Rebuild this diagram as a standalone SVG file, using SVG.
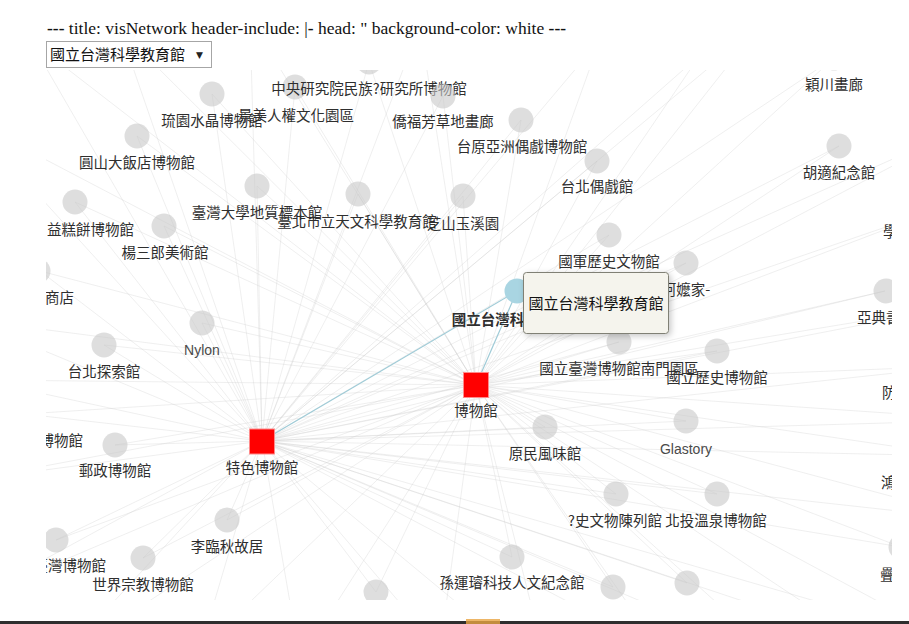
<svg xmlns="http://www.w3.org/2000/svg" width="909" height="624" viewBox="0 0 909 624">
<style>
.hdr{font-family:"Liberation Serif","Times New Roman",serif;font-size:17.5px;fill:#111}
.sel{font-family:"Noto Sans CJK TC","Noto Sans CJK SC",sans-serif;font-size:15px;fill:#111}
.lbl{font-family:"Noto Sans CJK TC","Noto Sans CJK SC",sans-serif;font-size:14.5px;fill:#2e2e2e;text-anchor:middle}
.lat{font-family:"Liberation Sans",Arial,sans-serif;font-size:14px;fill:#4a4a4a;text-anchor:middle}
.st{text-anchor:start}
.en{text-anchor:end}
.nd{fill:#c8c8c8;fill-opacity:.6}
.hub{fill:#ff0000;stroke:#ff8a8a;stroke-width:1}
#edges line{stroke:#cccccc;stroke-opacity:.32;stroke-width:1}
#edges line.hl{stroke:#9fcbd7;stroke-opacity:1;stroke-width:1.2}
</style>
<defs>
<clipPath id="cv"><rect x="46" y="70" width="846" height="530"/></clipPath>
<filter id="sh" x="-20%" y="-30%" width="150%" height="170%"><feDropShadow dx="2" dy="2" stdDeviation="3" flood-color="#000" flood-opacity=".22"/></filter>
</defs>
<rect width="909" height="624" fill="#fff"/>
<text class="hdr" x="47" y="34"><tspan font-weight="bold">---</tspan> title: visNetwork header-include: |<tspan font-weight="bold">-</tspan> head: " background-color: white <tspan font-weight="bold">---</tspan></text>
<g id="selector">
<rect x="46.5" y="41.5" width="165" height="26" fill="#fff" stroke="#a6a6a6"/>
<text class="sel" x="50" y="60">國立台灣科學教育館</text>
<text x="196" y="58" font-family="DejaVu Sans,sans-serif" font-size="9" fill="#222">▼</text>
</g>
<g clip-path="url(#cv)">
<g id="edges">
<line x1="212" y1="94" x2="476" y2="385"/><line x1="212" y1="94" x2="262" y2="441"/>
<line x1="295" y1="87" x2="476" y2="385"/><line x1="295" y1="87" x2="262" y2="441"/>
<line x1="369" y1="62" x2="476" y2="385"/><line x1="369" y1="62" x2="262" y2="441"/>
<line x1="443" y1="96" x2="476" y2="385"/><line x1="443" y1="96" x2="262" y2="441"/>
<line x1="521" y1="120" x2="476" y2="385"/><line x1="521" y1="120" x2="262" y2="441"/>
<line x1="597" y1="161" x2="476" y2="385"/><line x1="597" y1="161" x2="262" y2="441"/>
<line x1="834" y1="58" x2="476" y2="385"/><line x1="834" y1="58" x2="262" y2="441"/>
<line x1="839" y1="146" x2="476" y2="385"/><line x1="839" y1="146" x2="262" y2="441"/>
<line x1="137" y1="136" x2="476" y2="385"/><line x1="137" y1="136" x2="262" y2="441"/>
<line x1="257" y1="186" x2="476" y2="385"/><line x1="257" y1="186" x2="262" y2="441"/>
<line x1="358" y1="194" x2="476" y2="385"/><line x1="358" y1="194" x2="262" y2="441"/>
<line x1="463" y1="196" x2="476" y2="385"/><line x1="463" y1="196" x2="262" y2="441"/>
<line x1="75" y1="202" x2="476" y2="385"/><line x1="75" y1="202" x2="262" y2="441"/>
<line x1="164" y1="226" x2="476" y2="385"/><line x1="164" y1="226" x2="262" y2="441"/>
<line x1="609" y1="235" x2="476" y2="385"/><line x1="609" y1="235" x2="262" y2="441"/>
<line x1="686" y1="263" x2="476" y2="385"/><line x1="686" y1="263" x2="262" y2="441"/>
<line x1="885" y1="291" x2="476" y2="385"/><line x1="885" y1="291" x2="262" y2="441"/>
<line x1="40" y1="271" x2="476" y2="385"/><line x1="40" y1="271" x2="262" y2="441"/>
<line x1="202" y1="323" x2="476" y2="385"/><line x1="202" y1="323" x2="262" y2="441"/>
<line x1="104" y1="345" x2="476" y2="385"/><line x1="104" y1="345" x2="262" y2="441"/>
<line x1="619" y1="342" x2="476" y2="385"/><line x1="619" y1="342" x2="262" y2="441"/>
<line x1="717" y1="351" x2="476" y2="385"/><line x1="717" y1="351" x2="262" y2="441"/>
<line x1="115" y1="445" x2="476" y2="385"/><line x1="115" y1="445" x2="262" y2="441"/>
<line x1="25" y1="414" x2="476" y2="385"/><line x1="25" y1="414" x2="262" y2="441"/>
<line x1="545" y1="427" x2="476" y2="385"/><line x1="545" y1="427" x2="262" y2="441"/>
<line x1="686" y1="421" x2="476" y2="385"/><line x1="686" y1="421" x2="262" y2="441"/>
<line x1="616" y1="494" x2="476" y2="385"/><line x1="616" y1="494" x2="262" y2="441"/>
<line x1="717" y1="494" x2="476" y2="385"/><line x1="717" y1="494" x2="262" y2="441"/>
<line x1="227" y1="520" x2="476" y2="385"/><line x1="227" y1="520" x2="262" y2="441"/>
<line x1="56" y1="540" x2="476" y2="385"/><line x1="56" y1="540" x2="262" y2="441"/>
<line x1="143" y1="558" x2="476" y2="385"/><line x1="143" y1="558" x2="262" y2="441"/>
<line x1="512" y1="557" x2="476" y2="385"/><line x1="512" y1="557" x2="262" y2="441"/>
<line x1="376" y1="592" x2="476" y2="385"/><line x1="376" y1="592" x2="262" y2="441"/>
<line x1="613" y1="587" x2="476" y2="385"/><line x1="613" y1="587" x2="262" y2="441"/>
<line x1="687" y1="583" x2="476" y2="385"/><line x1="687" y1="583" x2="262" y2="441"/>
<line x1="950" y1="205" x2="476" y2="385"/><line x1="950" y1="205" x2="262" y2="441"/>
<line x1="960" y1="366" x2="476" y2="385"/><line x1="960" y1="366" x2="262" y2="441"/>
<line x1="960" y1="456" x2="476" y2="385"/><line x1="960" y1="456" x2="262" y2="441"/>
<line x1="901" y1="547" x2="476" y2="385"/><line x1="901" y1="547" x2="262" y2="441"/>
<line x1="30" y1="40" x2="476" y2="385"/><line x1="30" y1="40" x2="262" y2="441"/>
<line x1="120" y1="30" x2="476" y2="385"/><line x1="120" y1="30" x2="262" y2="441"/>
<line x1="250" y1="20" x2="476" y2="385"/><line x1="250" y1="20" x2="262" y2="441"/>
<line x1="420" y1="25" x2="476" y2="385"/><line x1="420" y1="25" x2="262" y2="441"/>
<line x1="600" y1="40" x2="476" y2="385"/><line x1="600" y1="40" x2="262" y2="441"/>
<line x1="700" y1="55" x2="476" y2="385"/><line x1="700" y1="55" x2="262" y2="441"/>
<line x1="760" y1="25" x2="476" y2="385"/><line x1="760" y1="25" x2="262" y2="441"/>
<line x1="980" y1="120" x2="476" y2="385"/><line x1="980" y1="120" x2="262" y2="441"/>
<line x1="990" y1="300" x2="476" y2="385"/><line x1="990" y1="300" x2="262" y2="441"/>
<line x1="990" y1="420" x2="476" y2="385"/><line x1="990" y1="420" x2="262" y2="441"/>
<line x1="980" y1="520" x2="476" y2="385"/><line x1="980" y1="520" x2="262" y2="441"/>
<line x1="950" y1="640" x2="476" y2="385"/><line x1="950" y1="640" x2="262" y2="441"/>
<line x1="60" y1="660" x2="476" y2="385"/><line x1="60" y1="660" x2="262" y2="441"/>
<line x1="200" y1="650" x2="476" y2="385"/><line x1="200" y1="650" x2="262" y2="441"/>
<line x1="300" y1="660" x2="476" y2="385"/><line x1="300" y1="660" x2="262" y2="441"/>
<line x1="440" y1="650" x2="476" y2="385"/><line x1="440" y1="650" x2="262" y2="441"/>
<line x1="550" y1="680" x2="476" y2="385"/><line x1="550" y1="680" x2="262" y2="441"/>
<line x1="660" y1="650" x2="476" y2="385"/><line x1="660" y1="650" x2="262" y2="441"/>
<line x1="780" y1="660" x2="476" y2="385"/><line x1="780" y1="660" x2="262" y2="441"/>
<line x1="860" y1="640" x2="476" y2="385"/><line x1="860" y1="640" x2="262" y2="441"/>
<line x1="-30" y1="120" x2="476" y2="385"/><line x1="-30" y1="120" x2="262" y2="441"/>
<line x1="-30" y1="320" x2="476" y2="385"/><line x1="-30" y1="320" x2="262" y2="441"/>
<line x1="-20" y1="380" x2="476" y2="385"/><line x1="-20" y1="380" x2="262" y2="441"/>
<line x1="-30" y1="480" x2="476" y2="385"/><line x1="-30" y1="480" x2="262" y2="441"/>
<line x1="-30" y1="600" x2="476" y2="385"/><line x1="-30" y1="600" x2="262" y2="441"/>
<line class="hl" x1="517" y1="291" x2="476" y2="385"/>
<line class="hl" x1="517" y1="291" x2="262" y2="441"/>
</g>
<g id="n-liuli"><circle class="nd" cx="212" cy="94" r="12.5"/><text class="lbl" x="212" y="126">琉園水晶博物館</text></g>
<g id="n-jingmei"><circle class="nd" cx="295" cy="87" r="12.5"/><text class="lbl" x="296" y="121">景美人權文化園區</text></g>
<g id="n-academia"><circle class="nd" cx="369" cy="62" r="12.5"/><text class="lbl" x="369" y="94">中央研究院民族?研究所博物館</text></g>
<g id="n-qiaofu"><circle class="nd" cx="443" cy="96" r="12.5"/><text class="lbl" x="443" y="127">僑福芳草地畫廊</text></g>
<g id="n-taiyuan"><circle class="nd" cx="521" cy="120" r="12.5"/><text class="lbl" x="522" y="152">台原亞洲偶戲博物館</text></g>
<g id="n-puppet"><circle class="nd" cx="597" cy="161" r="12.5"/><text class="lbl" x="597" y="192">台北偶戲館</text></g>
<g id="n-yingchuan"><circle class="nd" cx="834" cy="58" r="12.5"/><text class="lbl" x="834" y="90">穎川畫廊</text></g>
<g id="n-hushih"><circle class="nd" cx="839" cy="146" r="12.5"/><text class="lbl" x="839" y="178">胡適紀念館</text></g>
<g id="n-grandhotel"><circle class="nd" cx="137" cy="136" r="12.5"/><text class="lbl" x="137" y="168">圓山大飯店博物館</text></g>
<g id="n-geology"><circle class="nd" cx="257" cy="186" r="12.5"/><text class="lbl" x="257" y="218">臺灣大學地質標本館</text></g>
<g id="n-astro"><circle class="nd" cx="358" cy="194" r="12.5"/><text class="lbl" x="357" y="227">臺北市立天文科學教育館</text></g>
<g id="n-zhishan"><circle class="nd" cx="463" cy="196" r="12.5"/><text class="lbl" x="463" y="229">芝山玉溪園</text></g>
<g id="n-kuo"><circle class="nd" cx="75" cy="202" r="12.5"/><text class="lbl st" x="47" y="235">益糕餅博物館</text></g>
<g id="n-yang"><circle class="nd" cx="164" cy="226" r="12.5"/><text class="lbl" x="165" y="258">楊三郎美術館</text></g>
<g id="n-military"><circle class="nd" cx="609" cy="235" r="12.5"/><text class="lbl" x="609" y="267">國軍歷史文物館</text></g>
<g id="n-amah"><circle class="nd" cx="686" cy="263" r="12.5"/><text class="lbl" x="686" y="295">阿嬤家-</text></g>
<g id="n-yadian"><circle class="nd" cx="886" cy="291" r="12.5"/><text class="lbl" x="886" y="323">亞典書店</text></g>
<g id="n-shop"><circle class="nd" cx="38" cy="271" r="12.5"/><text class="lbl en" x="74" y="303">商店</text></g>
<g id="n-nylon"><circle class="nd" cx="202" cy="323" r="12.5"/><text class="lat" x="202" y="355">Nylon</text></g>
<g id="n-discovery"><circle class="nd" cx="104" cy="345" r="12.5"/><text class="lbl" x="104" y="377">台北探索館</text></g>
<g id="n-nanmen"><circle class="nd" cx="619" cy="342" r="12.5"/><text class="lbl" x="619" y="374">國立臺灣博物館南門園區</text></g>
<g id="n-history"><circle class="nd" cx="717" cy="351" r="12.5"/><text class="lbl" x="717" y="383">國立歷史博物館</text></g>
<g id="n-post"><circle class="nd" cx="115" cy="445" r="12.5"/><text class="lbl" x="115" y="476">郵政博物館</text></g>
<g id="n-leftmuseum"><text class="lbl en" x="83" y="446">博物館</text></g>
<g id="n-yuanmin"><circle class="nd" cx="545" cy="427" r="12.5"/><text class="lbl" x="545" y="459">原民風味館</text></g>
<g id="n-glastory"><circle class="nd" cx="686" cy="421" r="12.5"/><text class="lat" x="686" y="454">Glastory</text></g>
<g id="n-relics"><circle class="nd" cx="616" cy="494" r="12.5"/><text class="lbl" x="615" y="526">?史文物陳列館</text></g>
<g id="n-beitou"><circle class="nd" cx="717" cy="494" r="12.5"/><text class="lbl" x="716" y="526">北投溫泉博物館</text></g>
<g id="n-li"><circle class="nd" cx="227" cy="520" r="12.5"/><text class="lbl" x="227" y="552">李臨秋故居</text></g>
<g id="n-ntm"><circle class="nd" cx="56" cy="540" r="12.5"/><text class="lbl en" x="106" y="571">臺灣博物館</text></g>
<g id="n-religion"><circle class="nd" cx="143" cy="558" r="12.5"/><text class="lbl" x="143" y="590">世界宗教博物館</text></g>
<g id="n-sun"><circle class="nd" cx="512" cy="557" r="12.5"/><text class="lbl" x="512" y="588">孫運璿科技人文紀念館</text></g>
<g id="n-b1"><circle class="nd" cx="376" cy="592" r="12.5"/></g>
<g id="n-b2"><circle class="nd" cx="613" cy="587" r="12.5"/></g>
<g id="n-b3"><circle class="nd" cx="687" cy="583" r="12.5"/></g>
<g id="n-r1"><text class="lbl st" x="883" y="237">學</text></g>
<g id="n-r2"><text class="lbl st" x="882" y="398">防</text></g>
<g id="n-r3"><text class="lbl st" x="881" y="488">鴻</text></g>
<g id="n-r4"><circle class="nd" cx="901" cy="547" r="12.5"/><text class="lbl st" x="880" y="580">疊</text></g>
<g id="hub-museum"><rect class="hub" x="463.5" y="372.5" width="25" height="25"/><text class="lbl" x="476" y="416">博物館</text></g>
<g id="hub-special"><rect class="hub" x="249.5" y="429" width="25" height="25"/><text class="lbl" x="262" y="473">特色博物館</text></g>
<g id="n-ntsec"><circle cx="517" cy="291" r="12.5" fill="#a9d5e2"/><text class="lbl" x="517" y="325" font-weight="bold">國立台灣科學教育館</text></g>
</g>
<g id="tooltip">
<rect x="523.5" y="272.5" width="145" height="61" rx="3" fill="#f5f4ed" stroke="#808074" filter="url(#sh)"/>
<text class="sel" x="596" y="309" text-anchor="middle">國立台灣科學教育館</text>
</g>
<rect x="0" y="621" width="909" height="3" fill="#2e2e2e"/>
<rect x="466" y="619" width="34" height="5" fill="#e9a441" opacity=".8"/>
</svg>
